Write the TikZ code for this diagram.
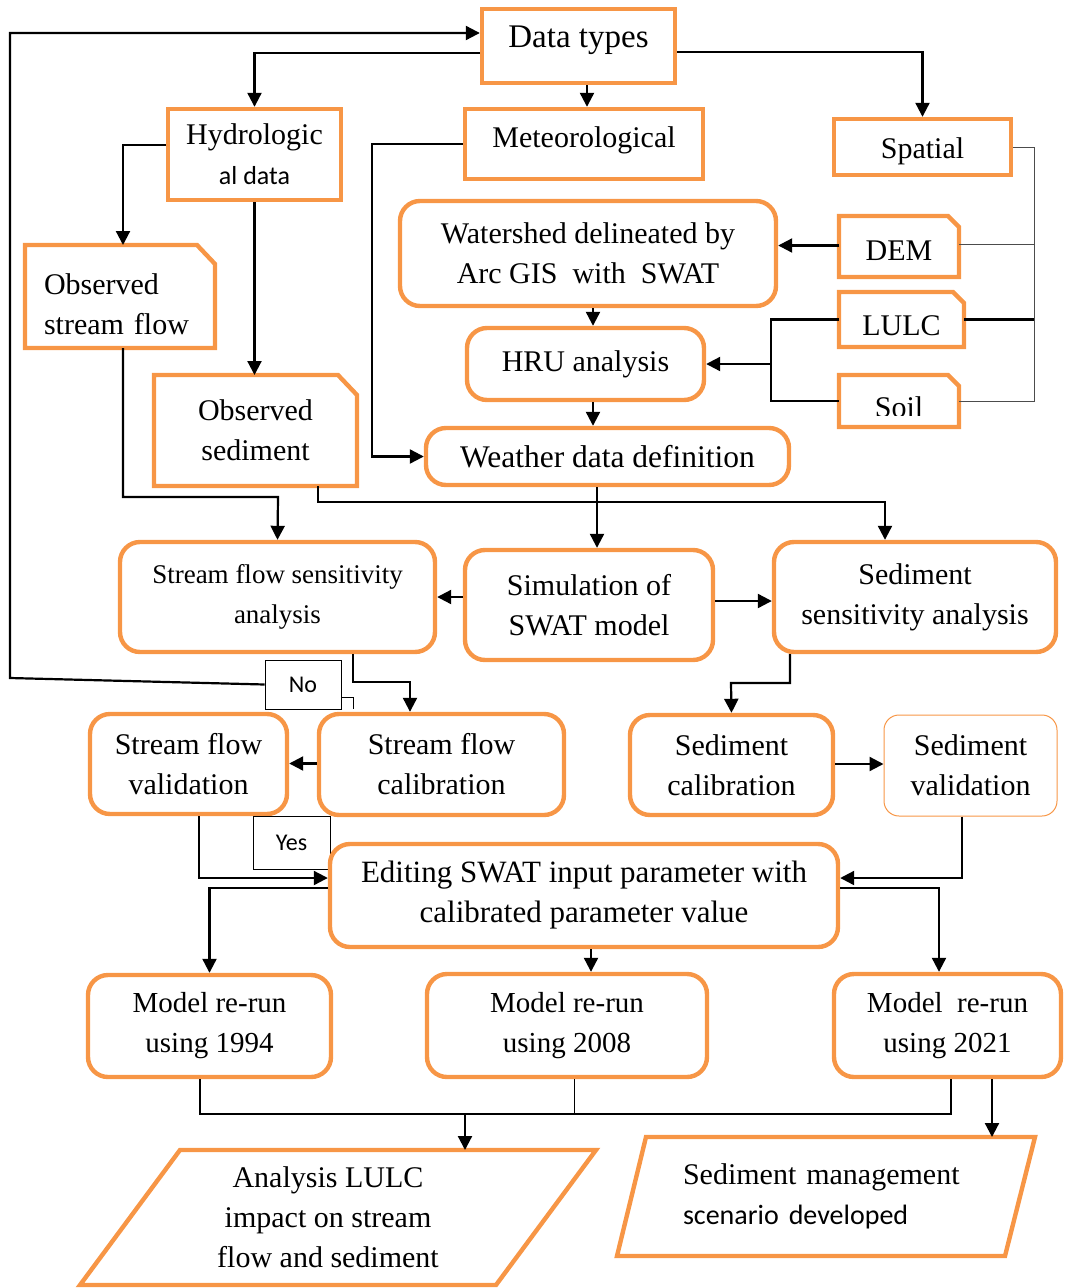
\documentclass[tikz,border=0pt]{standalone}
\usepackage{fontspec}
\setmainfont{Liberation Serif}
\newfontfamily\calib{Carlito}
\usetikzlibrary{arrows.meta}
\definecolor{boxorange}{HTML}{F79646}
\newcommand\bigtxt{\fontsize{30}{40}\selectfont}
\newcommand\tagtxt{\calib\fontsize{24}{28}\selectfont}
\tikzset{
  rbox/.style={draw=boxorange, line width=4.4pt, rounded corners=20pt, align=center, font=\bigtxt, inner sep=0pt},
  sbox/.style={draw=boxorange, line width=4.4pt, align=center, font=\bigtxt, inner sep=0pt},
  cbox/.style={align=center, font=\bigtxt, inner sep=0pt, outer sep=0pt},
  obord/.style={draw=boxorange, line width=4.4pt},
  tagbox/.style={draw, line width=0.8pt, font=\tagtxt, inner sep=0pt},
  link/.style={line width=2.2pt},
  arr/.style={-{Triangle[length=14pt,width=14pt]}, line width=2.2pt},
  bus/.style={line width=1pt, draw=black!70}
}
\begin{document}
\begin{tikzpicture}[x=1pt,y=-1pt]
  \useasboundingbox (0,0) rectangle (1067,1288);
  % data sources
  \node[sbox, minimum width=193pt, minimum height=74pt, text depth=18.5pt, font=\fontsize{33}{40}\selectfont] (dt) at (578.5,46) {Data types};
  \node[sbox, minimum width=173pt, minimum height=91pt] (hyd) at (254.5,154.5) {Hydrologic\\{\calib\fontsize{26}{40}\selectfont al data}};
  \node[sbox, minimum width=238pt, minimum height=70pt, text depth=14.5pt] (met) at (584,144) {Meteorological};
  \node[sbox, minimum width=177pt, minimum height=56pt, text height=22pt, text depth=0pt] (spa) at (922.5,147) {Spatial};
  \node[cbox, minimum width=120pt, minimum height=61pt, text height=27pt, text depth=0pt] (dem) at (899,246.5) {DEM};
  \node[cbox, minimum width=125pt, minimum height=55pt, text height=31pt, text depth=0pt] (lulc) at (901.5,319.5) {LULC};
  \begin{scope}
    \clip (830,370) rectangle (970,415);
    \node[cbox, minimum width=120pt, minimum height=52pt, text height=32pt, text depth=0pt] (soil) at (899,401) {Soil};
  \end{scope}
  \node[cbox, minimum width=190pt, minimum height=103pt, text width=152pt, align=left, text height=36pt] (osf) at (120,296.5) {Observed\\stream flow};
  \node[cbox, minimum width=203pt, minimum height=111pt] (osd) at (255.5,430.5) {Observed\\sediment};
  \draw[obord] (dem.south west) -- (dem.north west) -- ([xshift=-11pt]dem.north east) -- ([yshift=-11pt]dem.north east) -- (dem.south east) -- cycle;
  \draw[obord] (lulc.south west) -- (lulc.north west) -- ([xshift=-11pt]lulc.north east) -- ([yshift=-11pt]lulc.north east) -- (lulc.south east) -- cycle;
  \draw[obord] (soil.south west) -- (soil.north west) -- ([xshift=-11pt]soil.north east) -- ([yshift=-11pt]soil.north east) -- (soil.south east) -- cycle;
  \draw[obord] (osf.south west) -- (osf.north west) -- ([xshift=-18pt]osf.north east) -- ([yshift=-19pt]osf.north east) -- (osf.south east) -- cycle;
  \draw[obord] (osd.south west) -- (osd.north west) -- ([xshift=-19pt]osd.north east) -- ([yshift=-20pt]osd.north east) -- (osd.south east) -- cycle;
  % SWAT set-up
  \node[rbox, minimum width=376pt, minimum height=105pt] (ws) at (588,253.5) {Watershed delineated by\\Arc GIS\ \ with\ \ SWAT};
  \node[rbox, minimum width=237pt, minimum height=72pt] (hru) at (585.5,364) {HRU analysis};
  \node[rbox, minimum width=363pt, minimum height=57pt, font=\fontsize{31.5}{40}\selectfont] (wd) at (607.5,456.5) {Weather data definition};
  \node[rbox, minimum width=315pt, minimum height=110pt, font=\fontsize{27}{40}\selectfont] (sfs) at (277.5,597) {Stream flow sensitivity\\analysis};
  \node[rbox, minimum width=248pt, minimum height=110pt] (sim) at (589,605) {Simulation of\\SWAT model};
  \node[rbox, minimum width=282pt, minimum height=110pt] (sds) at (915,597) {Sediment\\sensitivity analysis};
  % calibration and validation
  \node[tagbox, minimum width=76pt, minimum height=49pt] (no) at (303,684.5) {No};
  \node[rbox, minimum width=197pt, minimum height=100pt] (sfv) at (188.5,764) {Stream flow\\validation};
  \node[rbox, minimum width=245pt, minimum height=101pt] (sfc) at (441.5,764.5) {Stream flow\\calibration};
  \node[rbox, minimum width=203pt, minimum height=100pt] (sdc) at (731.5,765) {Sediment\\calibration};
  \node[rbox, line width=1pt, rounded corners=15pt, minimum width=173pt, minimum height=101pt] (sdv) at (970.5,765.5) {Sediment\\validation};
  \node[tagbox, minimum width=77pt, minimum height=53pt] (yes) at (291.5,842.5) {Yes};
  \node[rbox, minimum width=508pt, minimum height=103pt, font=\fontsize{31}{40}\selectfont] (ed) at (584,895.5) {Editing SWAT input parameter with\\calibrated parameter value};
  % scenarios
  \node[rbox, minimum width=243pt, minimum height=102pt, font=\fontsize{29}{40}\selectfont] (m94) at (209.5,1026) {Model re-run\\using 1994};
  \node[rbox, minimum width=280pt, minimum height=103pt, font=\fontsize{29}{40}\selectfont] (m08) at (567,1025.5) {Model re-run\\using 2008};
  \node[rbox, minimum width=227pt, minimum height=103pt, font=\fontsize{29}{40}\selectfont] (m21) at (947.5,1025.5) {Model\ \ re-run\\using 2021};
  \node[cbox, minimum width=316pt, minimum height=135pt] (ana) at (328,1217.5) {Analysis LULC\\impact on stream\\flow and sediment};
  \node[cbox, minimum width=359pt, minimum height=119pt, text width=285pt, align=left] (sm) at (825.5,1196.5) {Sediment management\\{\calib\fontsize{28}{40}\selectfont scenario developed}};
  \draw[obord] ([xshift=-90pt]ana.south west) -- ([xshift=10pt]ana.north west) -- ([xshift=110pt]ana.north east) -- ([xshift=10pt]ana.south east) -- cycle;
  \draw[obord] ([xshift=-29pt]sm.south west) -- (sm.north west) -- ([xshift=30pt]sm.north east) -- (sm.south east) -- cycle;
  % bend points
  \coordinate (mbend) at (372,144);
  \coordinate (sbus) at (1034,401);
  \coordinate (hbend) at (771,364);
  \coordinate (sfjoin) at (278,497);
  \coordinate (sdjoin) at (885,502);
  \coordinate (calbend) at (410,682);
  \coordinate (sdbend) at (731,683);
  \coordinate (mjoin) at (465,1114);
  % connectors
  \draw[arr] (no.west) -- (10,678) |- ([yshift=13pt]dt.west);
  \draw[arr] ([yshift=-7pt]dt.west) -| (hyd.north);
  \draw[arr] ([xshift=8.5pt]dt.south) -- ([xshift=8.5pt]dt.south |- met.north);
  \draw[arr] ([yshift=-6pt]dt.east) -| (spa.north);
  \draw[arr] ([yshift=9.5pt]hyd.west) -| ([xshift=3pt]osf.north);
  \draw[arr] (hyd.south) -- (hyd.south |- osd.north);
  \draw[arr] (met.west) -- (mbend) |- (wd.west);
  \draw[bus] (spa.east) -| (sbus) -- (soil.east);
  \draw[bus] ([yshift=2pt]dem.east) -- ([yshift=2pt]dem.east -| sbus);
  \draw[link] (lulc.east) -- (lulc.east -| sbus);
  \draw[arr] ([yshift=1pt]dem.west) -- ([yshift=1pt]dem.west -| ws.east);
  \draw[link] (lulc.west) -| (hbend) |- (soil.west);
  \draw[arr] (hbend) -- (hru.east);
  \draw[arr] ([xshift=5pt]ws.south) -- ([xshift=5pt]ws.south |- hru.north);
  \draw[arr] ([xshift=7.5pt]hru.south) -- ([xshift=7.5pt]hru.south |- wd.north);
  \draw[arr] ([xshift=3pt]osf.south) |- (sfjoin) -- (sfs.north);
  \draw[arr] ([xshift=62.5pt]osd.south) |- (sdjoin) -- (sdjoin |- sds.north);
  \draw[arr] ([xshift=8pt]sim.north |- wd.south) -- ([xshift=8pt]sim.north);
  \draw[arr] ([yshift=8pt]sim.west) -- ([yshift=8pt]sim.west -| sfs.east);
  \draw[arr] ([yshift=4pt]sim.east) -- ([yshift=4pt]sim.east -| sds.west);
  \draw[arr] ([xshift=75.5pt]sfs.south) |- (calbend) -- (calbend |- sfc.north);
  \draw[line width=0.8pt] (no.east) |- (353,697) -- (353,709);
  \draw[arr] ([yshift=1pt]sfc.west) -- ([yshift=1pt]sfc.west -| sfv.east);
  \draw[arr] ([xshift=10.5pt]sfv.south) |- ([yshift=17.5pt]ed.west);
  \draw[arr] ([xshift=-125pt]sds.south) |- (sdbend) -- (sdc.north);
  \draw[arr] ([yshift=1pt]sdc.east) -- ([yshift=1pt]sdc.east -| sdv.west);
  \draw[arr] ([xshift=-8.5pt]sdv.south) |- ([yshift=17.5pt]ed.east);
  \draw[arr] ([yshift=7.5pt]ed.west) -| (m94.north);
  \draw[arr] ([xshift=7pt]ed.south) -- ([xshift=7pt]ed.south |- m08.north);
  \draw[arr] ([yshift=7.5pt]ed.east) -| ([xshift=-8.5pt]m21.north);
  \draw[link] ([xshift=-9.5pt]m94.south) |- (mjoin) -| ([xshift=3.5pt]m21.south);
  \draw[line width=0.8pt] ([xshift=7pt]m08.south) -- ([xshift=7pt]m08.south |- mjoin);
  \draw[arr] (mjoin) -- (mjoin |- ana.north);
  \draw[arr] ([xshift=44.5pt]m21.south) -- ([xshift=44.5pt]m21.south |- sm.north);
\end{tikzpicture}
\end{document}
